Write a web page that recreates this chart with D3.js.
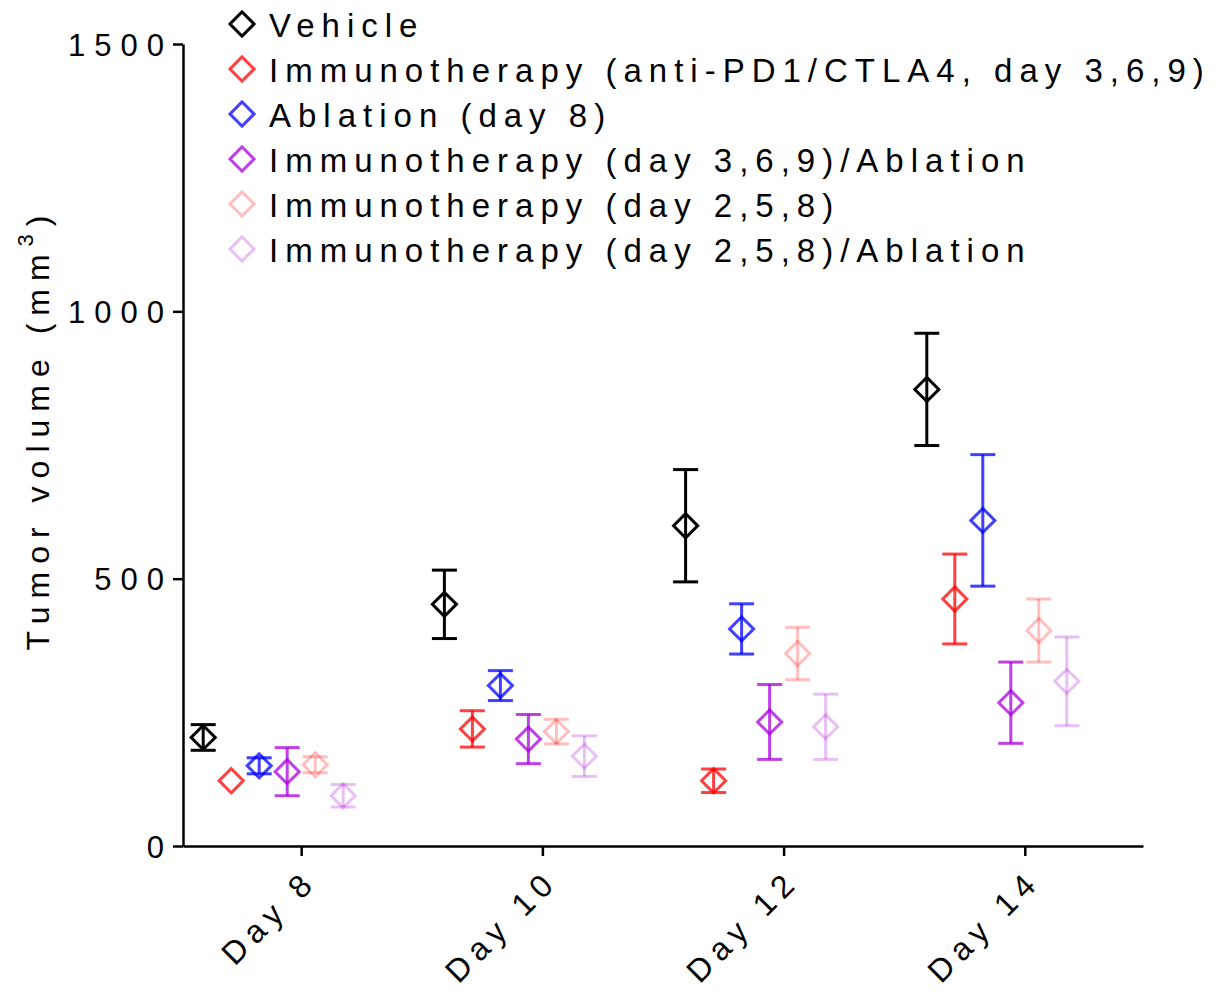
<!DOCTYPE html>
<html>
<head>
<meta charset="utf-8">
<script src="https://cdn.jsdelivr.net/npm/d3@7"></script>
<style>
  html, body { margin: 0; padding: 0; background: #fff; }
  svg { display: block; font-family: "Liberation Sans", Arial, sans-serif; }
</style>
</head>
<body>
<svg id="chart" width="1219" height="994"></svg>
<script>
// Time points on the x axis
const days = ["Day 8", "Day 10", "Day 12", "Day 14"];

// Treatment groups (legend order = drawing order within each day)
const groups = [
  "Vehicle",
  "Immunotherapy (anti-PD1/CTLA4, day 3,6,9)",
  "Ablation (day 8)",
  "Immunotherapy (day 3,6,9)/Ablation",
  "Immunotherapy (day 2,5,8)",
  "Immunotherapy (day 2,5,8)/Ablation"
];

// Mean tumor volume (mm^3) and SEM per group, per day
const vehicleMean       = [203, 452, 599, 854];
const vehicleSem        = [24, 64, 105, 105];
const immuno369Mean     = [122, 219, 122, 462];
const immuno369Sem      = [0, 34, 22, 84];
const ablationMean      = [150, 300, 406, 609];
const ablationSem       = [15, 28, 47, 123];
const immuno369AblMean  = [139, 200, 232, 268];
const immuno369AblSem   = [45, 46, 70, 76];
const immuno258Mean     = [152, 214, 360, 403];
const immuno258Sem      = [15, 23, 49, 59];
const immuno258AblMean  = [94, 168, 223, 308];
const immuno258AblSem   = [21, 38, 61, 83];

const yTicks = [0, 500, 1000, 1500];

// Group colours and stroke opacities
const colors    = ["#000000", "#ff0000", "#0000ff", "#aa00dd", "#ff0000", "#aa00dd"];
const opacities = [1, 0.75, 0.75, 0.75, 0.25, 0.25];

const means = [vehicleMean, immuno369Mean, ablationMean, immuno369AblMean, immuno258Mean, immuno258AblMean];
const sems  = [vehicleSem, immuno369Sem, ablationSem, immuno369AblSem, immuno258Sem, immuno258AblSem];

const points = [];
groups.forEach((g, gi) => {
  days.forEach((d, di) => {
    points.push({ group: g, gi, day: d, mean: means[gi][di], sem: sems[gi][di] });
  });
});

const svg = d3.select("#chart");

const x = d3.scalePoint().domain(days).range([183, 1143]).padding(0.49);
const dx = d3.scalePoint().domain(groups).range([-98, 42]);
const y = d3.scaleLinear().domain([0, 1500]).range([846, 44]);

const diamond = d3.symbol().type(d3.symbolSquare).size(290);

// Axes
const yAxis = svg.append("g")
  .attr("transform", `translate(${x.range()[0]},0)`)
  .call(d3.axisLeft(y).tickValues(yTicks).tickFormat(d3.format("d"))
    .tickSize(10).tickPadding(0).tickSizeOuter(0));
yAxis.select(".domain").attr("stroke", "#000").attr("stroke-width", 2.5);
yAxis.selectAll(".tick line").attr("stroke", "#000").attr("stroke-width", 2.5);
yAxis.selectAll(".tick text")
  .attr("fill", "#000")
  .style("font-size", "31px")
  .style("letter-spacing", "9px")
  .attr("dy", "0.36em");

const xAxis = svg.append("g")
  .attr("transform", `translate(0,${y(0)})`)
  .call(d3.axisBottom(x).tickSize(10).tickSizeOuter(0));
xAxis.select(".domain").attr("stroke", "#000").attr("stroke-width", 2.5);
xAxis.selectAll(".tick line").attr("stroke", "#000").attr("stroke-width", 2.5);
xAxis.selectAll(".tick text")
  .attr("fill", "#000")
  .style("font-size", "32px")
  .style("letter-spacing", "7px")
  .attr("text-anchor", "end")
  .attr("x", 0).attr("y", 0).attr("dy", 0)
  .attr("transform", "translate(17,37) rotate(-45)");

// Y axis title with superscript
const yTitle = svg.append("text")
  .attr("transform", `translate(49,${(213 + 645) / 2}) rotate(-90)`)
  .attr("text-anchor", "middle")
  .style("font-size", "32px")
  .style("letter-spacing", "8px")
  .attr("fill", "#000");
yTitle.append("tspan").text("Tumor volume (mm");
yTitle.append("tspan").attr("dy", "-0.75em").style("font-size", "22px").text("3");
yTitle.append("tspan").attr("dy", "0.51em").text(")");

// Data: error bars then diamonds
const pts = svg.append("g").selectAll("g.pt")
  .data(points)
  .join("g")
  .attr("class", "pt")
  .attr("transform", d => `translate(${x(d.day) + dx(d.group)},0)`);

const bars = pts.filter(d => d.sem > 0);
bars.append("line")
  .attr("x1", 0).attr("x2", 0)
  .attr("y1", d => y(d.mean + d.sem)).attr("y2", d => y(d.mean - d.sem))
  .attr("stroke", d => colors[d.gi]).attr("stroke-opacity", d => opacities[d.gi])
  .attr("stroke-width", 3);
bars.append("line")
  .attr("x1", -12.5).attr("x2", 12.5)
  .attr("y1", d => y(d.mean + d.sem)).attr("y2", d => y(d.mean + d.sem))
  .attr("stroke", d => colors[d.gi]).attr("stroke-opacity", d => opacities[d.gi])
  .attr("stroke-width", 3);
bars.append("line")
  .attr("x1", -12.5).attr("x2", 12.5)
  .attr("y1", d => y(d.mean - d.sem)).attr("y2", d => y(d.mean - d.sem))
  .attr("stroke", d => colors[d.gi]).attr("stroke-opacity", d => opacities[d.gi])
  .attr("stroke-width", 3);

pts.append("path")
  .attr("d", diamond)
  .attr("transform", d => `translate(0,${y(d.mean)}) rotate(45)`)
  .attr("fill", "none")
  .attr("stroke", d => colors[d.gi]).attr("stroke-opacity", d => opacities[d.gi])
  .attr("stroke-width", 3);

// Legend
const legend = svg.append("g").attr("transform", "translate(242,24)");
const rows = legend.selectAll("g").data(groups).join("g")
  .attr("transform", (d, i) => `translate(0,${i * 45})`);
rows.append("path")
  .attr("d", diamond)
  .attr("transform", "rotate(45)")
  .attr("fill", "none")
  .attr("stroke", (d, i) => colors[i]).attr("stroke-opacity", (d, i) => opacities[i])
  .attr("stroke-width", 3);
rows.append("text")
  .attr("x", 27).attr("y", 13)
  .style("font-size", "33px")
  .style("letter-spacing", "7px")
  .attr("fill", "#000")
  .text(d => d);
</script>
</body>
</html>
